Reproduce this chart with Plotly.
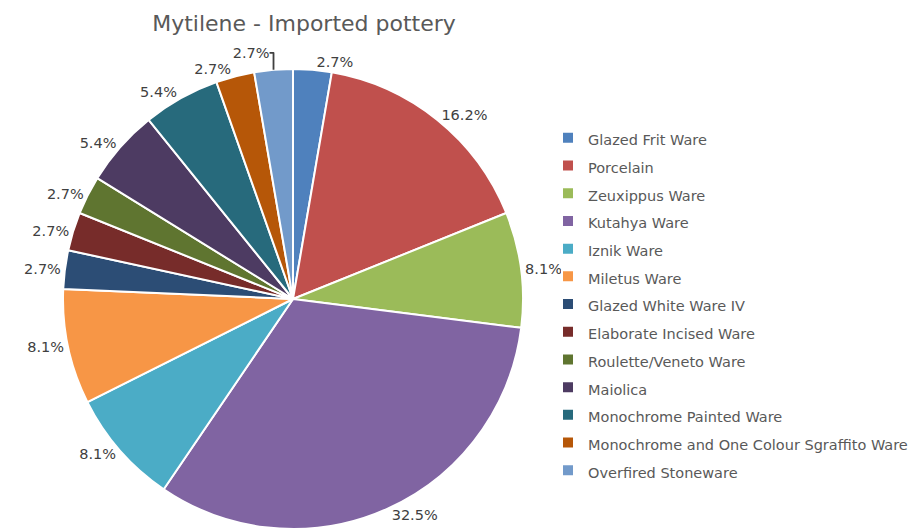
import plotly.graph_objects as go

categories = [
    "Glazed Frit Ware", "Porcelain", "Zeuxippus Ware", "Kutahya Ware", "Iznik Ware",
    "Miletus Ware", "Glazed White Ware IV", "Elaborate Incised Ware",
    "Roulette/Veneto Ware", "Maiolica", "Monochrome Painted Ware",
    "Monochrome and One Colour Sgraffito Ware", "Overfired Stoneware",
]
percentages = [2.7, 16.2, 8.1, 32.5, 8.1, 8.1, 2.7, 2.7, 2.7, 5.4, 5.4, 2.7, 2.7]
colors = ["#4F81BD", "#C0504D", "#9BBB59", "#8064A2", "#4BACC6", "#F79646",
          "#2C4D75", "#772C2A", "#5F7530", "#4D3B62", "#276A7C", "#B65708", "#729ACA"]

W, H = 918, 531
cx, cy, r = 285, 291, 230

legend_labels = ['<span style="font-size:14.5px">%s</span>' % c for c in categories]

fig = go.Figure(go.Pie(
    labels=legend_labels,
    values=percentages,
    sort=False,
    direction="clockwise",
    rotation=0,
    marker=dict(colors=colors, line=dict(color="white", width=2)),
    textposition="outside",
    texttemplate="%{value:.1f}%",
    textfont=dict(family="DejaVu Sans", size=14.5, color="#404040"),
    domain=dict(x=[(cx - r) / W, (cx + r) / W], y=[1 - (cy + r) / H, 1 - (cy - r) / H]),
    showlegend=True,
    hoverinfo="skip",
))

fig.update_layout(
    width=W, height=H,
    margin=dict(l=0, r=0, t=0, b=0),
    paper_bgcolor="white",
    plot_bgcolor="white",
    font=dict(family="DejaVu Sans", color="#595959"),
    title=dict(text="Mytilene - Imported pottery", x=296 / W, xanchor="center",
               y=1 - 15 / H, yanchor="middle", yref="container",
               font=dict(family="DejaVu Sans", size=22, color="#595959")),
    legend=dict(x=540 / W, xanchor="left", y=1 - 111 / H, yanchor="top",
                font=dict(family="DejaVu Sans", size=19, color="#595959"),
                bgcolor="rgba(0,0,0,0)"),
)

fig.write_html("out.html")
